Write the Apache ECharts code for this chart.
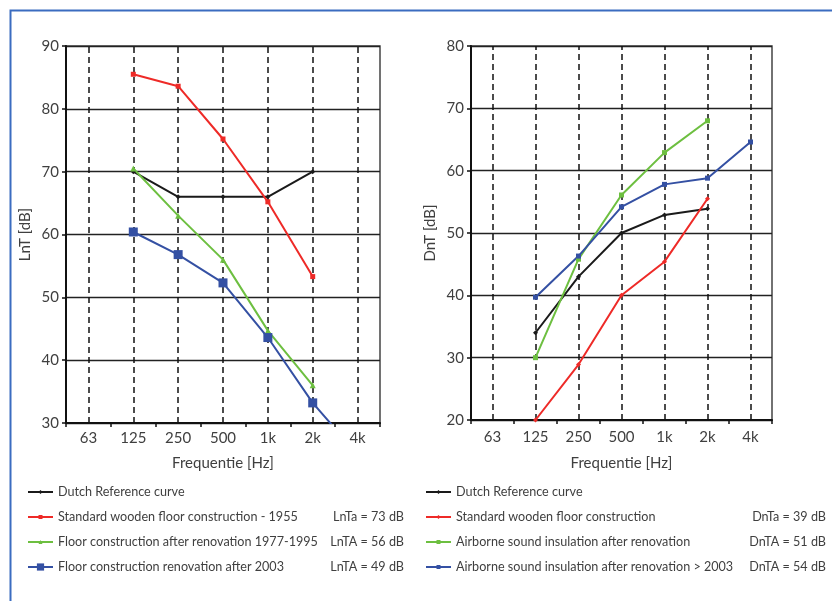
<!DOCTYPE html>
<html>
<head>
<meta charset="utf-8">
<script src="https://cdn.jsdelivr.net/npm/echarts@6/dist/echarts.min.js"></script>
<style>
html,body{margin:0;padding:0;background:#fff;}
#c{width:832px;height:601px;}
</style>
</head>
<body>
<div id="c"></div>
<script>
// ---- data ----
var categories = ['63', '125', '250', '500', '1k', '2k', '4k'];

// Left chart: LnT [dB]
var leftNames = [
  'Dutch Reference curve',
  'Standard wooden floor construction - 1955',
  'Floor construction after renovation 1977-1995',
  'Floor construction renovation after 2003'
];
var leftValues = ['', 'LnTa = 73 dB', 'LnTA = 56 dB', 'LnTA = 49 dB'];
var leftRef    = [null, 70, 66, 66, 66, 70, null];
var leftRed    = [null, 85.5, 83.6, 75.2, 65.2, 53.3, null];
var leftGreen  = [null, 70.5, 63, 56, 44.7, 36, null];
var leftBlue   = [null, 60.4, 56.8, 52.3, 43.6, 33.2, 25];

// Right chart: DnT [dB]
var rightNames = [
  'Dutch Reference curve',
  'Standard wooden floor construction',
  'Airborne sound insulation after renovation',
  'Airborne sound insulation after renovation > 2003'
];
var rightValues = ['', 'DnTa = 39 dB', 'DnTA = 51 dB', 'DnTA = 54 dB'];
var rightRef   = [null, 34, 43, 50, 52.9, 53.9, null];
var rightRed   = [null, 20, 28.9, 40, 45.4, 55.5, null];
var rightGreen = [null, 30, 45.8, 56.1, 62.9, 68, null];
var rightBlue  = [null, 39.7, 46.3, 54.2, 57.8, 58.8, 64.6];

var leftTicks  = {min: 30, max: 90, interval: 10};
var rightTicks = {min: 20, max: 80, interval: 10};

// ---- styles ----
var FONT = 'Lato';
var TXT = '#3f3f3f';
var C_BLACK = '#1a1a1a', C_RED = '#ee2a27', C_GREEN = '#6dbf40', C_BLUE = '#3450a3';

function xAxisCfg(idx) {
  return {
    type: 'category', gridIndex: idx, data: categories, boundaryGap: true,
    name: 'Frequentie [Hz]', nameLocation: 'middle', nameGap: idx === 0 ? 33 : 36,
    nameTextStyle: {fontFamily: FONT, fontSize: 15, color: TXT},
    axisLine: {show: true, lineStyle: {color: '#111', width: 2}},
    axisTick: {show: true, inside: false, length: 4, interval: 0, lineStyle: {color: '#111', width: 1.5}},
    axisLabel: {interval: 0, margin: idx === 0 ? 8 : 10, fontFamily: FONT, fontSize: 15, color: TXT},
    splitLine: {show: false}
  };
}
function yAxisCfg(idx, t, name) {
  return {
    type: 'value', gridIndex: idx, min: t.min, max: t.max, interval: t.interval,
    name: name, nameLocation: 'middle', nameGap: 33, nameRotate: 90,
    nameTextStyle: {fontFamily: FONT, fontSize: 15, color: TXT},
    axisLine: {show: true, lineStyle: {color: '#111', width: 2}},
    axisTick: {show: true, inside: false, length: 4, lineStyle: {color: '#111', width: 1.5}},
    axisLabel: {margin: 7, fontFamily: FONT, fontSize: 15, color: TXT},
    splitLine: {show: true, lineStyle: {color: '#222', width: 1.4}}
  };
}
function lineSeries(name, data, idx, color, symbol, size) {
  return {
    type: 'line', name: name, data: data, xAxisIndex: idx, yAxisIndex: idx,
    symbol: symbol, symbolSize: size, showSymbol: true, z: 5,
    lineStyle: {color: color, width: 2},
    itemStyle: {color: color},
    clip: true, silent: true
  };
}
function dashSeries(idx) {
  return {
    type: 'line', xAxisIndex: idx, yAxisIndex: idx, data: categories.map(function(){return null;}),
    z: 2, silent: true, symbol: 'none',
    markLine: {
      silent: true, symbol: ['none', 'none'], animation: false,
      label: {show: false},
      lineStyle: {color: '#111', type: [6, 4], width: 1.5},
      emphasis: {disabled: true},
      data: categories.map(function(c){ return {xAxis: c}; })
    }
  };
}
function legendCfg(left, top, names, valuesByName, itemHeight, nWidth, vWidth) {
  var fs = 12.6;
  return {
    orient: 'vertical', left: left, top: top, itemWidth: 25, itemHeight: itemHeight,
    itemGap: 9, selectedMode: false, padding: 0,
    data: names,
    formatter: function(name){ return '{n|' + name + '}{v|' + (valuesByName[name] || '') + '}'; },
    textStyle: {
      fontFamily: FONT, fontSize: fs, color: TXT, lineHeight: 16,
      rich: {
        n: {width: nWidth, fontFamily: FONT, fontSize: fs, color: TXT, lineHeight: 16},
        v: {width: vWidth, align: 'right', fontFamily: FONT, fontSize: fs, color: TXT, lineHeight: 16}
      }
    }
  };
}

var leftValMap = {}, rightValMap = {};
leftNames.forEach(function(n, i){ leftValMap[n] = leftValues[i]; });
rightNames.forEach(function(n, i){ rightValMap[n] = rightValues[i]; });
var leftLegendNames = leftNames.slice(0, 3);
var rightLegendNames = rightNames.slice(1);

var chart = echarts.init(document.getElementById('c'), null, {renderer: 'canvas'});
chart.setOption({
  animation: false,
  backgroundColor: '#fff',
  graphic: [{
    type: 'rect', left: 8, top: 8, silent: true,
    shape: {x: 0, y: 0, width: 840, height: 620},
    style: {fill: 'none', stroke: '#3b6cc0', lineWidth: 2}
  }],
  grid: [
    {left: 66, top: 46, width: 314, height: 377, show: true, borderColor: '#444', borderWidth: 1.5, backgroundColor: 'transparent'},
    {left: 471, top: 46, width: 301, height: 374, show: true, borderColor: '#444', borderWidth: 1.5, backgroundColor: 'transparent'}
  ],
  xAxis: [xAxisCfg(0), xAxisCfg(1)],
  yAxis: [yAxisCfg(0, leftTicks, 'LnT [dB]'), yAxisCfg(1, rightTicks, 'DnT [dB]')],
  legend: [
    legendCfg(27, 484, leftLegendNames, leftValMap, 5, 266, 80),
    legendCfg(27, 559, [leftNames[3]], leftValMap, 9, 266, 80),
    legendCfg(425, 484, [rightNames[0]], rightValMap, 5, 290, 80),
    legendCfg(425, 509, rightLegendNames, rightValMap, 5, 290, 80)
  ],
  series: [
    dashSeries(0),
    dashSeries(1),
    lineSeries(leftNames[0], leftRef, 0, C_BLACK, 'diamond', 5),
    lineSeries(leftNames[1], leftRed, 0, C_RED, 'rect', 5),
    lineSeries(leftNames[2], leftGreen, 0, C_GREEN, 'triangle', 6),
    lineSeries(leftNames[3], leftBlue, 0, C_BLUE, 'rect', 9),
    lineSeries(rightNames[0] , rightRef, 1, C_BLACK, 'diamond', 5),
    lineSeries(rightNames[1], rightRed, 1, C_RED, 'diamond', 5),
    lineSeries(rightNames[2], rightGreen, 1, C_GREEN, 'rect', 5),
    lineSeries(rightNames[3], rightBlue, 1, C_BLUE, 'rect', 5)
  ]
});
</script>
</body>
</html>
